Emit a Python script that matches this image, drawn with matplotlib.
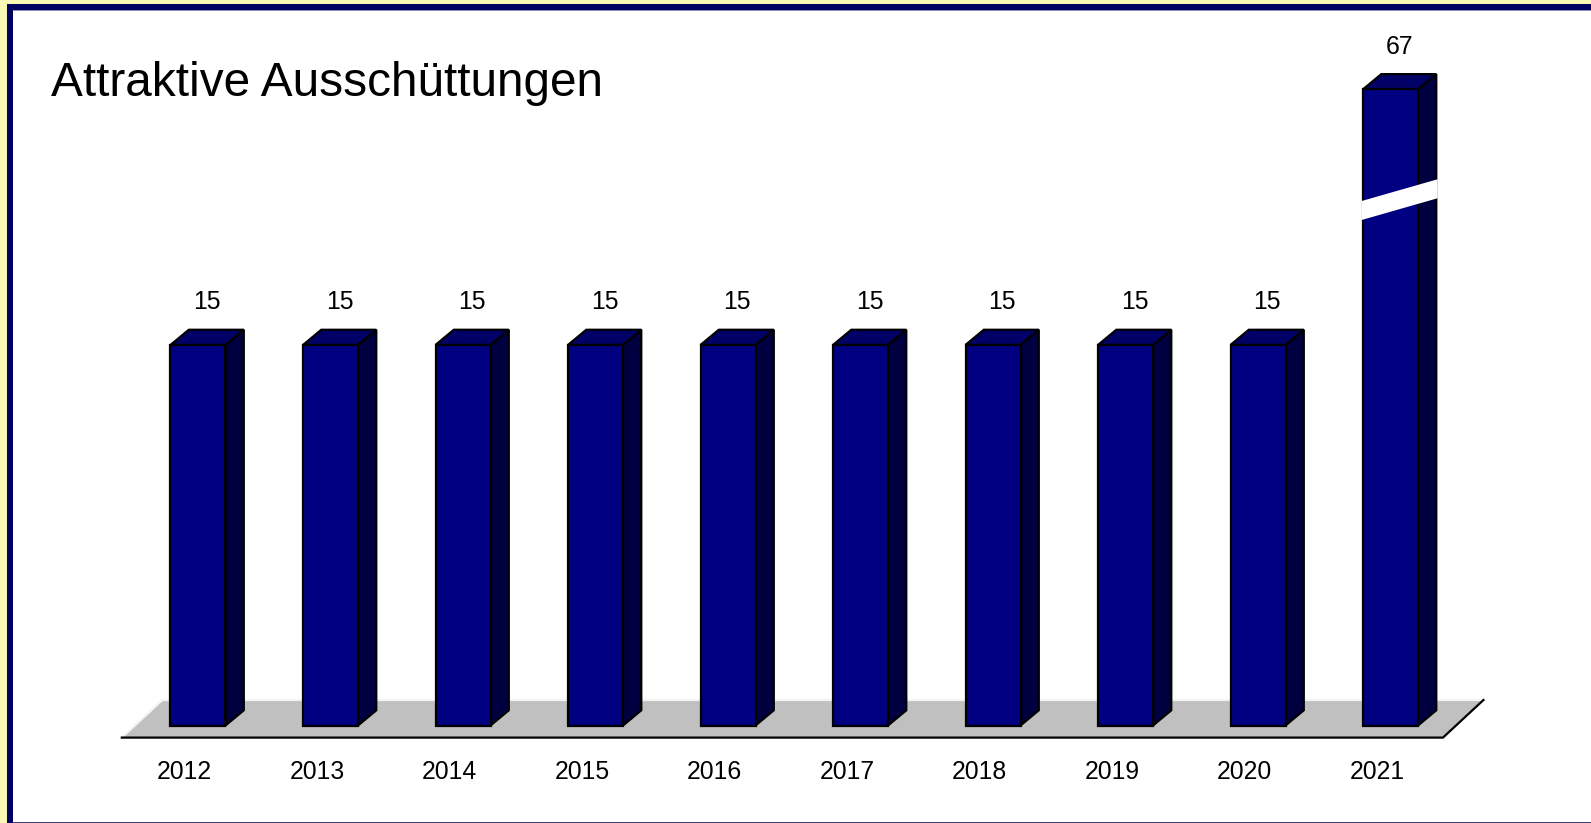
import matplotlib
matplotlib.use("Agg")
import matplotlib.pyplot as plt
from matplotlib.patches import Polygon, Rectangle

# ---- data ----
years = ["2012", "2013", "2014", "2015", "2016", "2017", "2018", "2019", "2020", "2021"]
values = [15, 15, 15, 15, 15, 15, 15, 15, 15, 67]
title = "Attraktive Ausschüttungen"

# ---- style ----
FRONT = "#000080"
SIDE = "#000040"
TOP = "#000066"
FLOOR = "#C0C0C0"
FONT = "Liberation Sans"

# broken value axis: linear up to BREAK, compressed above
BREAK = 20.0
COMPRESS = 0.108


def disp(v):
    return v if v <= BREAK else BREAK + (v - BREAK) * COMPRESS


W, H = 1591, 823
PX = 132.5   # pixels per category
PY = 25.37   # pixels per value unit
fig = plt.figure(figsize=(W / 100, H / 100), dpi=100)
fig.patch.set_facecolor("white")
ax = fig.add_axes([0, 0, 1, 1])
ax.set_xlim(-198 / PX, (W - 198) / PX)
ax.set_ylim(-97.5 / PY, (H - 97.5) / PY)
ax.axis("off")

half = 55 / PX / 2      # half bar width (x units)
ddx = 18.3 / PX         # depth offset x
ddy = 15.2 / PY         # depth offset y

# floor
fx0, fx1, fy = -0.575, 9.396, -12.1 / PY
fdx, fdy = 40.5 / PX, 37.6 / PY
ax.add_patch(Polygon([(fx0, fy), (fx1, fy), (fx1 + fdx, fy + fdy), (fx0 + fdx, fy + fdy)],
                     closed=True, facecolor=FLOOR, edgecolor="none", zorder=1))
ax.plot([fx0, fx0 + fdx, fx1 + fdx], [fy, fy + fdy, fy + fdy], color="#F4F4F4", lw=1.6, zorder=1.5,
        solid_joinstyle="miter")
ax.plot([fx0, fx1, fx1 + fdx], [fy, fy, fy + fdy], color="#000000", lw=1.6, zorder=1.5,
        solid_joinstyle="miter")

for i, (yr, v) in enumerate(zip(years, values)):
    h = disp(v)
    x0, x1 = i - half, i + half
    kw = dict(closed=True, edgecolor="black", lw=1.6, joinstyle="miter", zorder=3)
    ax.add_patch(Polygon([(x1, 0), (x1 + ddx, ddy), (x1 + ddx, h + ddy), (x1, h)], facecolor=SIDE, **kw))
    ax.add_patch(Polygon([(x0, h), (x1, h), (x1 + ddx, h + ddy), (x0 + ddx, h + ddy)], facecolor=TOP, **kw))
    ax.add_patch(Polygon([(x0, 0), (x1, 0), (x1, h), (x0, h)], facecolor=FRONT, **kw))
    if v > BREAK:
        # white break stripe across the bar
        s0 = (725.5 - 220) / PY
        th = 19 / PY
        slope = (21.0 / PY) / (x1 + ddx - x0)
        xa, xb = x0 - 0.01, x1 + ddx + 0.01
        ax.add_patch(Polygon([(xa, s0), (xb, s0 + slope * (xb - xa)),
                              (xb, s0 + slope * (xb - xa) + th), (xa, s0 + th)],
                             closed=True, facecolor="white", edgecolor="none", zorder=4))
    ax.text(i + ddx / 2, h + ddy + 27.5 / PY, str(v), ha="center", va="center",
            fontsize=17.8, family=FONT, color="black", zorder=5)
    ax.text(i - 0.1, -(772 - 725.5) / PY, yr, ha="center", va="center",
            fontsize=17.8, family=FONT, color="black", zorder=5)

fig.text(51 / W, 1 - 84 / H, title, ha="left", va="center", fontsize=34.4, family=FONT, color="black")

# frame decoration
fig.patches.append(Rectangle((0, 0), 7 / W, 1, transform=fig.transFigure, facecolor="#F8F8B4",
                             edgecolor="none", zorder=10))
fig.patches.append(Rectangle((0, 1 - 4 / H), 1, 4 / H, transform=fig.transFigure, facecolor="#F8F8B4",
                             edgecolor="none", zorder=10))
fig.patches.append(Rectangle((7 / W, 0), 6 / W, 1 - 4 / H, transform=fig.transFigure, facecolor="#000060",
                             edgecolor="none", zorder=11))
fig.patches.append(Rectangle((7 / W, 1 - 10 / H), 1, 6 / H, transform=fig.transFigure, facecolor="#000060",
                             edgecolor="none", zorder=11))
fig.patches.append(Rectangle((13 / W, 1 - 11 / H), 1, 1 / H, transform=fig.transFigure, facecolor="#9090B8",
                             edgecolor="none", zorder=11))
fig.patches.append(Rectangle((13 / W, 0), 1, 1.5 / H, transform=fig.transFigure, facecolor="#404080",
                             edgecolor="none", zorder=11))

fig.savefig("out.png", dpi=100, facecolor=fig.get_facecolor())
